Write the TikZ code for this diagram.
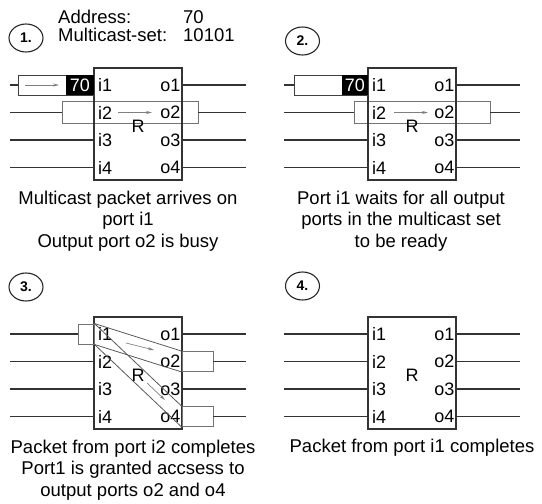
\documentclass[tikz,border=0pt]{standalone}
\usepackage{fontspec}
\setmainfont{Liberation Sans}
\usetikzlibrary{arrows.meta,shapes.geometric}
% router panel macro: #1 = suffix
\newcommand\mkrouter[1]{%
  \node[routerbox] (box#1) at (138,124) {};
  \foreach \k/\yy in {1/85,2/112.5,3/140,4/167.5}{%
    \coordinate (i\k#1) at (94,\yy);
    \coordinate (o\k#1) at (182,\yy);
    \coordinate (wl\k#1) at (10,\yy);
    \coordinate (wr\k#1) at (246,\yy);
    \node[lbl, anchor=west] (li\k#1) at (98,\yy) {i\k};
    \node[lbl, anchor=east] (lo\k#1) at (180.5,\yy) {o\k};
  }
  \node[lbl] (lr#1) at (138,126) {R};
}
\begin{document}
\begin{tikzpicture}[x=1pt,y=-1pt,
  wire/.style={draw=black!80, line width=1.2pt},
  routerbox/.style={draw=black!80, line width=1.2pt, rectangle, minimum width=88pt, minimum height=112pt, inner sep=0pt},
  pkt/.style={draw=black!55, line width=0.9pt, rectangle, inner sep=0pt},
  addr/.style={fill=black, text=white, rectangle, inner sep=0pt, minimum width=28pt, minimum height=20pt, font=\fontsize{18}{20}\selectfont},
  flow/.style={draw=black!50, line width=0.7pt, -{Stealth[length=6pt,width=3pt]}},
  beam/.style={draw=black!65, line width=0.8pt},
  lbl/.style={font=\fontsize{18}{20}\selectfont, inner sep=0pt},
  captxt/.style={font=\fontsize{18.5}{21.5}\selectfont, align=center, inner sep=0pt},
  numc/.style={ellipse, draw=black!85, line width=1.1pt, minimum width=34pt, minimum height=28pt, inner sep=0pt, font=\bfseries\fontsize{14}{16}\selectfont},
  hdr/.style={font=\fontsize{18.5}{21}\selectfont, inner sep=0pt, anchor=base west}]
\useasboundingbox (0,0) rectangle (542,504);

% ---------------- Panel 1 ----------------
\begin{scope}
  \node[numc] (n1) at (26,38) {1.};
  \node[hdr] (ha) at (58,23) {Address:};
  \node[hdr] (hav) at (183,23) {70};
  \node[hdr] (hm) at (58,41.5) {Multicast-set:};
  \node[hdr] (hmv) at (183,41.5) {10101};
  \node[pkt, minimum width=136pt, minimum height=22pt] (pb1) at (130,112.5) {};
  \mkrouter{A}
  \node[pkt, draw=black!75, minimum width=76pt, minimum height=20pt] (pa1) at (56,85) {};
  \node[addr] (ad1) at (80,85) {70};
  \coordinate (fa1) at (25,85);
  \coordinate (fb1) at (59,85);
  \draw[flow] (fa1) -- (fb1);
  \coordinate (fc1) at (118,112.5);
  \coordinate (fd1) at (152,112.5);
  \draw[flow] (fc1) -- (fd1);
  \draw[wire] (wl1A) -- (pa1.west);
  \draw[wire] (wl2A) -- (pb1.west);
  \draw[wire] (wl3A) -- (i3A);
  \draw[wire] (wl4A) -- (i4A);
  \draw[wire] (o1A) -- (wr1A);
  \draw[wire] (pb1.east) -- (wr2A);
  \draw[wire] (o3A) -- (wr3A);
  \draw[wire] (o4A) -- (wr4A);
  \node[captxt] (c1) at (128,221) {Multicast packet arrives on\\port i1\\Output port o2 is busy};
\end{scope}

% ---------------- Panel 2 ----------------
\begin{scope}[xshift=274pt]
  \node[numc] (n2) at (28.5,41) {2.};
  \node[pkt, minimum width=136pt, minimum height=22pt] (pb2) at (148,112.5) {};
  \mkrouter{B}
  \node[pkt, draw=black!75, minimum width=74pt, minimum height=20pt] (pa2) at (57,85) {};
  \node[addr, minimum width=26pt] (ad2) at (81,85) {70};
  \coordinate (fc2) at (120,112.5);
  \coordinate (fd2) at (154,112.5);
  \draw[flow] (fc2) -- (fd2);
  \draw[wire] (wl1B) -- (pa2.west);
  \draw[wire] (wl2B) -- (pb2.west);
  \draw[wire] (wl3B) -- (i3B);
  \draw[wire] (wl4B) -- (i4B);
  \draw[wire] (o1B) -- (wr1B);
  \draw[wire] (pb2.east) -- (wr2B);
  \draw[wire] (o3B) -- (wr3B);
  \draw[wire] (o4B) -- (wr4B);
  \node[captxt] (c2) at (127,221) {Port i1 waits for all output\\ports in the multicast set\\to be ready};
\end{scope}

% ---------------- Panel 3 ----------------
\begin{scope}[yshift=-249pt]
  \node[numc] (n3) at (26,38) {3.};
  \mkrouter{C}
  \node[pkt, minimum width=16pt, minimum height=20pt] (pc3) at (86,85) {};
  \node[pkt, minimum width=31pt, minimum height=20pt] (po23) at (197.5,112.5) {};
  \node[pkt, minimum width=31pt, minimum height=20pt] (po43) at (197.5,167.5) {};
  \draw[beam] (pc3.north east) -- (po23.north west);
  \draw[beam] (pc3.south east) -- (po23.south west);
  \draw[beam] (pc3.north east) -- (po43.north west);
  \draw[beam] (pc3.south east) -- (po43.south west);
  \coordinate (fa3) at (126,94);
  \coordinate (fb3) at (154,101);
  \draw[flow] (fa3) -- (fb3);
  \coordinate (fc3) at (147,134);
  \coordinate (fd3) at (165,151);
  \draw[flow] (fc3) -- (fd3);
  \draw[wire] (wl1C) -- (pc3.west);
  \draw[wire] (wl2C) -- (i2C);
  \draw[wire] (wl3C) -- (i3C);
  \draw[wire] (wl4C) -- (i4C);
  \draw[wire] (o1C) -- (wr1C);
  \draw[wire] (po23.east) -- (wr2C);
  \draw[wire] (o3C) -- (wr3C);
  \draw[wire] (po43.east) -- (wr4C);
  \node[captxt] (c3) at (133,221) {Packet from port i2 completes\\Port1 is granted accsess to\\output ports o2 and o4};
\end{scope}

% ---------------- Panel 4 ----------------
\begin{scope}[xshift=274pt, yshift=-249pt]
  \node[numc] (n4) at (28.5,37) {4.};
  \mkrouter{D}
  \draw[wire] (wl1D) -- (i1D);
  \draw[wire] (wl2D) -- (i2D);
  \draw[wire] (wl3D) -- (i3D);
  \draw[wire] (wl4D) -- (i4D);
  \draw[wire] (o1D) -- (wr1D);
  \draw[wire] (o2D) -- (wr2D);
  \draw[wire] (o3D) -- (wr3D);
  \draw[wire] (o4D) -- (wr4D);
  \node[captxt] (c4) at (138,199) {Packet from port i1 completes};
\end{scope}
\end{tikzpicture}
\end{document}
